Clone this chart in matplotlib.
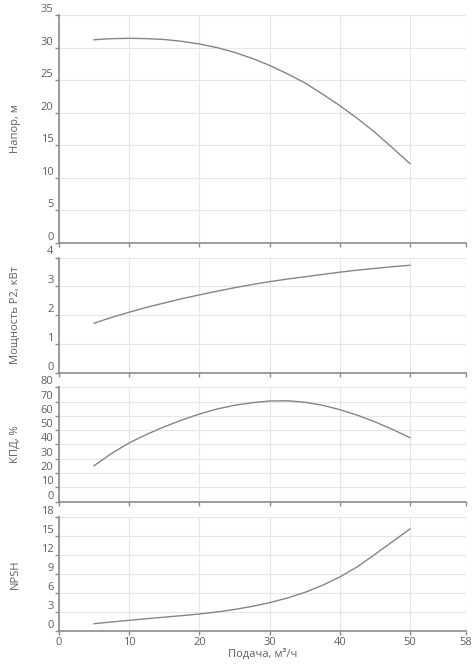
import matplotlib; matplotlib.use("Agg")
import matplotlib.pyplot as plt

plt.rcParams['font.family'] = ['Open Sans', 'DejaVu Sans']

# flow, m3/h
q = [5, 7.5, 10, 12.5, 15, 17.5, 20, 22.5, 25, 27.5, 30, 32.5, 35, 37.5, 40, 42.5, 45, 47.5, 50]
head = [31.2, 31.37, 31.42, 31.37, 31.24, 30.96, 30.55, 30.0, 29.27, 28.35, 27.27,
        26.0, 24.6, 22.9, 21.1, 19.14, 17.0, 14.63, 12.2]
power = [1.72, 1.92, 2.10, 2.27, 2.42, 2.57, 2.70, 2.83, 2.95, 3.06, 3.16,
         3.25, 3.33, 3.41, 3.49, 3.56, 3.62, 3.68, 3.73]
eff = [25.2, 33.8, 41.1, 47.1, 52.4, 57.1, 61.3, 64.8, 67.4, 69.2, 70.4,
       70.6, 69.6, 67.5, 64.4, 60.5, 55.9, 50.6, 44.8]
npsh = [1.15, 1.42, 1.68, 1.94, 2.18, 2.42, 2.68, 2.99, 3.39, 3.87, 4.46,
        5.18, 6.07, 7.17, 8.5, 10.1, 12.05, 14.05, 16.06]

xticks = [0, 10, 20, 30, 40, 50, 58]
panels = [
    (head, 'Напор, м', [0, 5, 10, 15, 20, 25, 30, 35]),
    (power, 'Мощность P2, кВт', [0, 1, 2, 3, 4]),
    (eff, 'КПД, %', [0, 10, 20, 30, 40, 50, 60, 70, 80]),
    (npsh, 'NPSH', [0, 3, 6, 9, 12, 15, 18]),
]
# axes boxes in figure pixels: (top, bottom)
boxes = [(15, 243), (257.5, 372.7), (387.3, 501.7), (516.7, 631)]

W, H = 474, 671
fig = plt.figure(figsize=(W / 100, H / 100), dpi=100)
left, right = 59, 466
for (y, lab, yt), (top, bot) in zip(panels, boxes):
    ax = fig.add_axes([left / W, 1 - bot / H, (right - left) / W, (bot - top) / H])
    ax.plot(q, y, color='#858585', lw=1.0, solid_joinstyle='round')
    ax.set_xlim(0, 58)
    ax.set_ylim(yt[0], yt[-1])
    ax.set_xticks(xticks)
    ax.set_yticks(yt)
    ax.grid(True, color='#e6e6e6', lw=0.8)
    ax.set_axisbelow(True)
    for s in ('top', 'right'):
        ax.spines[s].set_visible(False)
    for s in ('left', 'bottom'):
        ax.spines[s].set_color('#8c8c8c')
        ax.spines[s].set_linewidth(1.2)
    ax.tick_params(axis='both', colors='#8c8c8c', length=3, width=1,
                   labelcolor='#606060', labelsize=8, pad=1)
    for t in ax.get_yticklabels():
        t.set_verticalalignment('bottom')
    ax.set_ylabel(lab, fontsize=8, color='#606060')
    ax.yaxis.set_label_coords(-0.093, 0.5)
    if lab != 'NPSH':
        ax.tick_params(axis='x', labelbottom=False)
    else:
        ax.set_xlabel('Подача, м³/ч', fontsize=8, color='#606060', labelpad=1)

fig.savefig('out.png', dpi=100)
